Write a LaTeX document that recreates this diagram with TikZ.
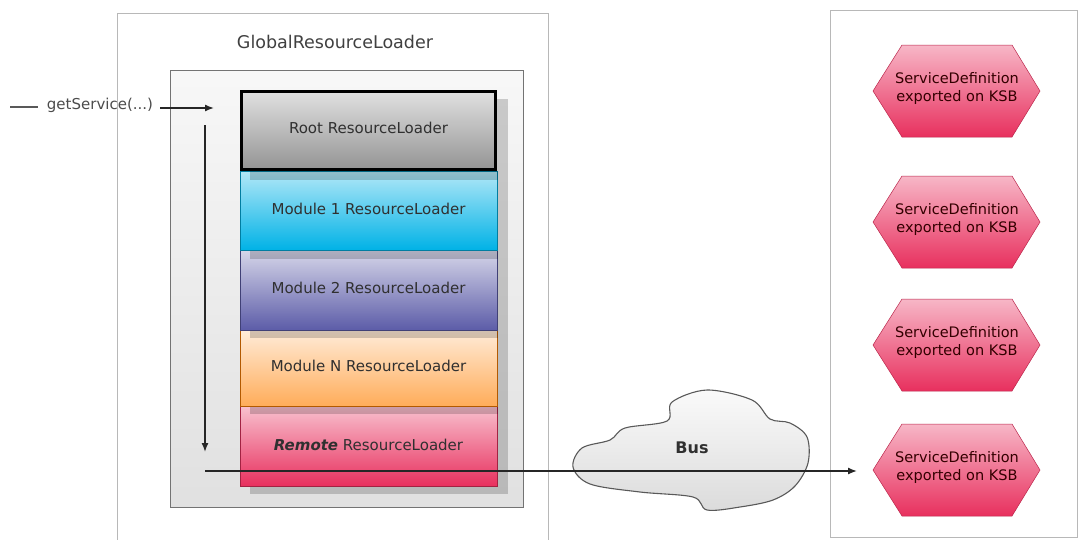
\documentclass[tikz,border=0pt]{standalone}
\usepackage{fontspec}
\setmainfont{DejaVu Sans}
\usetikzlibrary{arrows.meta}
\definecolor{txt}{HTML}{303030}
\definecolor{frame}{HTML}{B8B8B8}
\tikzset{
  lbl/.style={font=\fontsize{15}{17}\selectfont, text=txt, inner sep=0pt},
  loader/.style={draw=#1!70!black, line width=0.6pt},
  shadowbox/.style={fill=black, fill opacity=0.18, draw=none},
  arr/.style={line width=1.4pt, draw=black!85, -{Latex[length=9pt,width=7pt]}},
  hexa/.style={draw=#1!80!black, line width=0.5pt, top color=#1!35!white, bottom color=#1},
}
\definecolor{pinkk}{HTML}{E8305E}
\begin{document}
\begin{tikzpicture}[x=1pt,y=-1pt]
\useasboundingbox (0,0) rectangle (1079,539);
% outer frames
\draw[frame, line width=1pt] (117,13) -- (117,545) (548,545) -- (548,13) -- (117,13);
\node[lbl, font=\fontsize{17.5}{20}\selectfont, text=black!75] (title) at (335,42) {GlobalResourceLoader};
\draw[frame, line width=1pt] (830,10) rectangle (1077,537);
% inner box
\draw[draw=black!55, line width=1pt, top color=black!3, bottom color=black!12] (170,70) rectangle (523,507);
% stack, drawn bottom up so upper shadows fall on lower boxes
\fill[shadowbox] (250,414) rectangle (508,494);
\draw[loader=pinkk, top color=pinkk!30!white, bottom color=pinkk] (240,406) rectangle (497,486);
\node[lbl] (remote) at (368.5,445) {\textbf{\textit{Remote}} ResourceLoader};
\fill[shadowbox] (250,338) rectangle (508,414);
\draw[loader=orange, top color=orange!15!white, bottom color=orange!65!white] (240,330) rectangle (497,406);
\node[lbl] (modn) at (368.5,366) {Module N ResourceLoader};
\fill[shadowbox] (250,259) rectangle (508,338);
\definecolor{lav}{HTML}{5C5CA8}
\draw[loader=lav, top color=lav!25!white, bottom color=lav] (240,250) rectangle (497,330);
\node[lbl] (mod2) at (368.5,288) {Module 2 ResourceLoader};
\fill[shadowbox] (250,180) rectangle (508,259);
\definecolor{cyn}{HTML}{00B2E6}
\draw[loader=cyn, top color=cyn!30!white, bottom color=cyn] (240,171) rectangle (497,250);
\node[lbl] (mod1) at (368.5,209) {Module 1 ResourceLoader};
\fill[shadowbox] (250,99) rectangle (508,180);
\draw[draw=black, line width=3.2pt, top color=black!12, bottom color=black!42] (241.5,91.5) rectangle (495.5,169.5);
\node[lbl] (root) at (368.5,128) {Root ResourceLoader};
% getService call
\coordinate (stubA) at (10,107);
\coordinate (stubB) at (38,107);
\draw[line width=2pt, black!65] (stubA) -- (stubB);
\node[lbl, text=black!70] (gs) at (100,105) {getService(...)};
\coordinate (gsA) at (160,108);
\coordinate (gsB) at (214,108);
\draw[arr] (gsA) -- (gsB);
% downward search
\coordinate (downA) at (205,125);
\coordinate (downB) at (205,452);
\draw[arr] (downA) -- (downB);
% cloud
\draw[draw=black!65, line width=1.1pt, top color=black!2, bottom color=black!14]
  plot[smooth cycle, tension=0.55] coordinates {(573,467) (590,484) (640,492) (693,497) (707,510) (740,507) (773,500) (795,486) (808,463) (807,437) (790,423) (770,419) (752,400) (707,390) (672,402) (667,421) (625,428) (610,440) (582,448)};
\node[lbl, font=\bfseries\fontsize{16}{18}\selectfont] (bus) at (692,448) {Bus};
% hexagons
\foreach \i/\cy in {1/91, 2/222, 3/345, 4/470}{
  \draw[hexa=pinkk] (873,\cy) -- (902,\cy-46) -- (1012,\cy-46) -- (1040,\cy) -- (1012,\cy+46) -- (902,\cy+46) -- cycle;
  \node[lbl, align=center, font=\fontsize{14.5}{18}\selectfont, text=black!80!red] (hex\i) at (957,\cy-3) {ServiceDefinition\\exported on KSB};
}
\coordinate (busA) at (205,471);
\coordinate (hexin) at (857,471);
\draw[arr] (busA) -- (hexin);
\end{tikzpicture}
\end{document}
